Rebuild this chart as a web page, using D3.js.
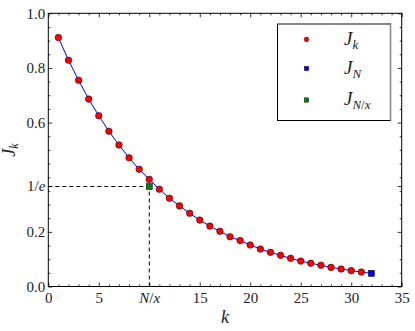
<!DOCTYPE html>
<html>
<head>
<meta charset="utf-8">
<script src="https://cdn.jsdelivr.net/npm/d3@7"></script>
<style>
  body { margin: 0; background: #fff; }
</style>
</head>
<body>
<svg id="chart"></svg>
<script>
'use strict';

// k = 1..32 ; last one is J_N
var ks = d3.range(1, 33);
var jk = [0.911, 0.828, 0.755, 0.686, 0.625, 0.568, 0.518, 0.471, 0.429, 0.392,
          0.356, 0.323, 0.295, 0.268, 0.243, 0.221, 0.202, 0.182, 0.168, 0.152,
          0.137, 0.125, 0.114, 0.103, 0.093, 0.085, 0.078, 0.070, 0.064, 0.058,
          0.053, 0.048];
var kNx = 10, jNx = 0.366;          // the J_{N/x} point
var xTicks = [0, 5, 10, 15, 20, 25, 30, 35];
var xLabels = ["0", "5", "N/x", "15", "20", "25", "30", "35"];
var yTicks = [0.0, 0.2, 1 / Math.E, 0.6, 0.8, 1.0];
var yLabels = ["0.0", "0.2", "1/e", "0.6", "0.8", "1.0"];
var legendNames = ["k", "N", "N/x"];

var width = 415, height = 331;
var pLeft = 48.3, pRight = 401.7, pTop = 13.3, pBottom = 286.5;
var FONT = "Liberation Serif";

var svg = d3.select("#chart").attr("width", width).attr("height", height);

var x = d3.scaleLinear().domain([0, 35]).range([pLeft, pRight]);
var y = d3.scaleLinear().domain([0, 1]).range([pBottom, pTop]);

// minor ticks
var xMinor = d3.range(0, 36).filter(function(d) { return d % 5 !== 0; });
var yMinor = d3.range(0, 21).map(function(d) { return d * 0.05; })
               .filter(function(d) { return Math.abs(d * 5 - Math.round(d * 5)) > 1e-6 || Math.abs(d - 0.4) < 1e-6; });

function axisPair(sel, axisFn, scale, ticks, size, fmt) {
    sel.call(axisFn(scale).tickValues(ticks).tickSizeInner(-size).tickSizeOuter(0).tickPadding(6).tickFormat(fmt));
    sel.attr("font-family", FONT).attr("font-size", 15);
    sel.select(".domain").remove();
    sel.selectAll(".tick line").attr("stroke", "#000").attr("stroke-width", 0.8);
}

var blank = function() { return ""; };

// bottom & top
var gB = svg.append("g").attr("transform", "translate(0," + pBottom + ")");
axisPair(gB, d3.axisBottom, x, xTicks, 4, function(d, i) { return xLabels[i]; });
var gBm = svg.append("g").attr("transform", "translate(0," + pBottom + ")");
axisPair(gBm, d3.axisBottom, x, xMinor, 2, blank);
var gT = svg.append("g").attr("transform", "translate(0," + pTop + ")");
axisPair(gT, d3.axisTop, x, xTicks, 4, blank);
var gTm = svg.append("g").attr("transform", "translate(0," + pTop + ")");
axisPair(gTm, d3.axisTop, x, xMinor, 2, blank);

// left & right
var gL = svg.append("g").attr("transform", "translate(" + pLeft + ",0)");
axisPair(gL, d3.axisLeft, y, yTicks, 4, function(d, i) { return yLabels[i]; });
var gLm = svg.append("g").attr("transform", "translate(" + pLeft + ",0)");
axisPair(gLm, d3.axisLeft, y, yMinor, 2, blank);
var gR = svg.append("g").attr("transform", "translate(" + pRight + ",0)");
axisPair(gR, d3.axisRight, y, yTicks, 4, blank);
var gRm = svg.append("g").attr("transform", "translate(" + pRight + ",0)");
axisPair(gRm, d3.axisRight, y, yMinor, 2, blank);

[gB, gL].forEach(function(g) {
    g.selectAll(".tick text").attr("font-family", FONT).attr("font-size", 15).attr("fill", "#222");
});
gB.selectAll(".tick text").attr("dy", "0.75em").attr("y", 5);
gL.selectAll(".tick text").attr("x", -3);

// italic N/x and 1/e labels
gB.selectAll(".tick text").filter(function(d) { return d === 10; }).each(function() {
    var t = d3.select(this).text("");
    t.append("tspan").attr("font-style", "italic").text("N");
    t.append("tspan").text("/");
    t.append("tspan").attr("font-style", "italic").text("x");
});
gL.selectAll(".tick text").filter(function(d, i) { return yLabels[i] === "1/e"; }).each(function() {
    var t = d3.select(this).text("");
    t.append("tspan").text("1/");
    t.append("tspan").attr("font-style", "italic").text("e");
});

// dashed guides
svg.append("line")
    .attr("x1", x(0)).attr("x2", x(kNx)).attr("y1", y(jNx)).attr("y2", y(jNx))
    .attr("stroke", "#000").attr("stroke-dasharray", "4,3").attr("stroke-width", 1);
svg.append("line")
    .attr("x1", x(kNx)).attr("x2", x(kNx)).attr("y1", y(0)).attr("y2", y(jNx))
    .attr("stroke", "#000").attr("stroke-dasharray", "4,3").attr("stroke-width", 1);

// curve
var line = d3.line().x(function(d, i) { return x(ks[i]); }).y(function(d) { return y(d); });
svg.append("path").datum(jk).attr("d", line)
    .attr("fill", "none").attr("stroke", "#0000ff").attr("stroke-width", 1);

// J_k points
svg.selectAll(".pt").data(jk.slice(0, 31)).enter().append("circle")
    .attr("class", "pt")
    .attr("cx", function(d, i) { return x(ks[i]); })
    .attr("cy", function(d) { return y(d); })
    .attr("r", 3.3)
    .attr("fill", "#ff0000").attr("stroke", "#000").attr("stroke-width", 0.5);

function square(cx, cy, s, fill) {
    svg.append("rect")
        .attr("x", cx - s / 2).attr("y", cy - s / 2).attr("width", s).attr("height", s)
        .attr("fill", fill).attr("stroke", "#000").attr("stroke-width", 0.5);
}
square(x(ks[31]), y(jk[31]), 6, "#0000ff");
square(x(kNx), y(jNx), 6, "#007f00");

// frame
svg.append("rect").attr("x", pLeft).attr("y", pTop)
    .attr("width", pRight - pLeft).attr("height", pBottom - pTop)
    .attr("fill", "none").attr("stroke", "#000").attr("stroke-width", 1);

// axis labels
svg.append("text").attr("x", (pLeft + pRight) / 2).attr("y", 323)
    .attr("text-anchor", "middle").attr("fill", "#222")
    .attr("font-size", 18).attr("font-style", "italic").attr("font-family", FONT).text("k");
var yl = svg.append("text").attr("transform", "translate(15,150) rotate(-90)")
    .attr("text-anchor", "middle").attr("fill", "#222")
    .attr("font-size", 18).attr("font-family", FONT);
yl.append("tspan").attr("font-style", "italic").text("J");
yl.append("tspan").attr("font-style", "italic").attr("font-size", 12).attr("dy", 3).text("k");

// legend
var lx0 = 277.5, ly0 = 24, lx1 = 390.5, ly1 = 120.5;
svg.append("rect").attr("x", lx0).attr("y", ly0).attr("width", lx1 - lx0).attr("height", ly1 - ly0)
    .attr("fill", "#fff").attr("stroke", "#000").attr("stroke-width", 1);
svg.append("polyline")
    .attr("points", [[lx0, ly0], [lx1, ly0], [lx1, ly1]].join(" "))
    .attr("fill", "none").attr("stroke", "#888").attr("stroke-width", 1.6);

var legY = [39.5, 68.5, 100];
var legFill = ["#ff0000", "#0000ff", "#007f00"];
legendNames.forEach(function(name, i) {
    if (i === 0) {
        svg.append("circle").attr("cx", 306.5).attr("cy", legY[i]).attr("r", 2.4)
            .attr("fill", legFill[i]).attr("stroke", "#000").attr("stroke-width", 0.4);
    } else {
        svg.append("rect").attr("x", 304.3).attr("y", legY[i] - 2.2).attr("width", 4.4).attr("height", 4.4)
            .attr("fill", legFill[i]).attr("stroke", "#000").attr("stroke-width", 0.4);
    }
    var t = svg.append("text").attr("x", 344).attr("y", legY[i] + 5).attr("fill", "#222")
        .attr("font-size", 19).attr("font-style", "italic").attr("font-family", FONT);
    t.append("tspan").text("J");
    var sub = t.append("tspan").attr("font-size", 13).attr("dy", 4);
    if (name === "N/x") {
        sub.append("tspan").text("N");
        sub.append("tspan").attr("font-style", "normal").text("/");
        sub.append("tspan").text("x");
    } else {
        sub.text(name);
    }
});
</script>
</body>
</html>
